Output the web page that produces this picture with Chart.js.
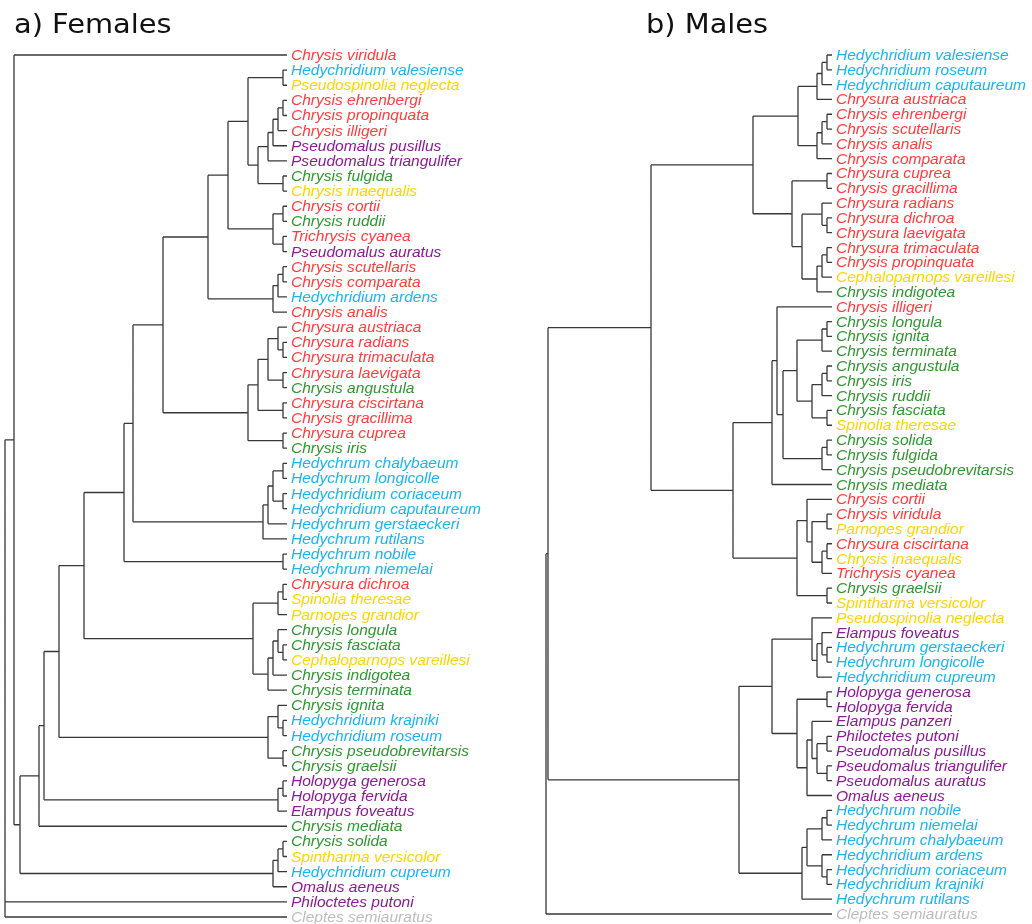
<!DOCTYPE html>
<html>
<head>
<meta charset="utf-8">
<script src="https://cdn.jsdelivr.net/npm/chart.js@4.4.1/dist/chart.umd.min.js"></script>
<style>
  body { margin: 0; background: #fff; }
  #wrap { position: relative; width: 1032px; height: 924px; overflow: hidden; }
  canvas { position: absolute; left: 0; top: 0; }
  .ttl { position: absolute; font-family: "DejaVu Sans", sans-serif; font-size: 26px; line-height: 26px;
         color: #111; transform: scaleX(1.11); transform-origin: left top; white-space: nowrap; }
</style>
</head>
<body>
<div id="wrap">
  <canvas id="females" width="1032" height="924"></canvas>
  <canvas id="males" width="1032" height="924"></canvas>
  <div class="ttl" style="left:14px; top:11px;">a) Females</div>
  <div class="ttl" style="left:646px; top:11px;">b) Males</div>
</div>
<script>
// colour of each group of taxa
const palette = { r: '#ff3c3c', b: '#1ab4f0', y: '#ffd400', p: '#8c1a96', g: '#2f972f', k: '#bcbcbc' };

// ---- a) Females ----
const femaleTaxa = [
  'Chrysis viridula', 'Hedychridium valesiense', 'Pseudospinolia neglecta', 'Chrysis ehrenbergi',
  'Chrysis propinquata', 'Chrysis illigeri', 'Pseudomalus pusillus', 'Pseudomalus triangulifer',
  'Chrysis fulgida', 'Chrysis inaequalis', 'Chrysis cortii', 'Chrysis ruddii', 'Trichrysis cyanea',
  'Pseudomalus auratus', 'Chrysis scutellaris', 'Chrysis comparata', 'Hedychridium ardens',
  'Chrysis analis', 'Chrysura austriaca', 'Chrysura radians', 'Chrysura trimaculata',
  'Chrysura laevigata', 'Chrysis angustula', 'Chrysura ciscirtana', 'Chrysis gracillima',
  'Chrysura cuprea', 'Chrysis iris', 'Hedychrum chalybaeum', 'Hedychrum longicolle',
  'Hedychridium coriaceum', 'Hedychridium caputaureum', 'Hedychrum gerstaeckeri',
  'Hedychrum rutilans', 'Hedychrum nobile', 'Hedychrum niemelai', 'Chrysura dichroa',
  'Spinolia theresae', 'Parnopes grandior', 'Chrysis longula', 'Chrysis fasciata',
  'Cephaloparnops vareillesi', 'Chrysis indigotea', 'Chrysis terminata', 'Chrysis ignita',
  'Hedychridium krajniki', 'Hedychridium roseum', 'Chrysis pseudobrevitarsis', 'Chrysis graelsii',
  'Holopyga generosa', 'Holopyga fervida', 'Elampus foveatus', 'Chrysis mediata', 'Chrysis solida',
  'Spintharina versicolor', 'Hedychridium cupreum', 'Omalus aeneus', 'Philoctetes putoni',
  'Cleptes semiauratus'
];
const femaleColorCodes = 'rbyrrrppgy' + 'rgrprrbrrr' + 'rrgrrrgbbb' + 'bbbbbryygg' + 'ygggbbggpp' + 'pggybppk';
const femaleTipDepth = 282;
// node = [depth from root, ...children]
const femaleTree =
[0,
  [9, 'Chrysis viridula',
    [15,
      [34,
        [39,
          [54,
            [79,
              [119,
                [128,
                  [158,
                    [203,
                      [223,
                        [243, [278, 'Hedychridium valesiense', 'Pseudospinolia neglecta'],
                          [253,
                            [263, [268, [273, [278, 'Chrysis ehrenbergi', 'Chrysis propinquata'], 'Chrysis illigeri'], 'Pseudomalus pusillus'],
                              'Pseudomalus triangulifer'],
                            [278, 'Chrysis fulgida', 'Chrysis inaequalis']]],
                        [268, [278, 'Chrysis cortii', 'Chrysis ruddii'], [278, 'Trichrysis cyanea', 'Pseudomalus auratus']]],
                      [268, [273, [278, 'Chrysis scutellaris', 'Chrysis comparata'], 'Hedychridium ardens'], 'Chrysis analis']],
                    [243,
                      [253,
                        [263, [273, 'Chrysura austriaca', [278, 'Chrysura radians', 'Chrysura trimaculata']],
                          [278, 'Chrysura laevigata', 'Chrysis angustula']],
                        [278, 'Chrysura ciscirtana', 'Chrysis gracillima']],
                      [278, 'Chrysura cuprea', 'Chrysis iris']]],
                  [258,
                    [263, [268, [278, 'Hedychrum chalybaeum', 'Hedychrum longicolle'], [278, 'Hedychridium coriaceum', 'Hedychridium caputaureum']],
                      'Hedychrum gerstaeckeri'],
                    'Hedychrum rutilans']],
                [278, 'Hedychrum nobile', 'Hedychrum niemelai']],
              [248,
                [273, [278, 'Chrysura dichroa', 'Spinolia theresae'], 'Parnopes grandior'],
                [263, [268, [273, 'Chrysis longula', [278, 'Chrysis fasciata', 'Cephaloparnops vareillesi']], 'Chrysis indigotea'],
                  'Chrysis terminata']]],
            [263, [273, 'Chrysis ignita', [278, 'Hedychridium krajniki', 'Hedychridium roseum']],
              [278, 'Chrysis pseudobrevitarsis', 'Chrysis graelsii']]],
          [273, [278, 'Holopyga generosa', 'Holopyga fervida'], 'Elampus foveatus']],
        'Chrysis mediata'],
      [268, [273, [278, 'Chrysis solida', 'Spintharina versicolor'], 'Hedychridium cupreum'], 'Omalus aeneus']]],
  'Philoctetes putoni',
  'Cleptes semiauratus'];

// ---- b) Males ----
const maleTaxa = [
  'Hedychridium valesiense', 'Hedychridium roseum', 'Hedychridium caputaureum', 'Chrysura austriaca',
  'Chrysis ehrenbergi', 'Chrysis scutellaris', 'Chrysis analis', 'Chrysis comparata',
  'Chrysura cuprea', 'Chrysis gracillima', 'Chrysura radians', 'Chrysura dichroa',
  'Chrysura laevigata', 'Chrysura trimaculata', 'Chrysis propinquata', 'Cephaloparnops vareillesi',
  'Chrysis indigotea', 'Chrysis illigeri', 'Chrysis longula', 'Chrysis ignita', 'Chrysis terminata',
  'Chrysis angustula', 'Chrysis iris', 'Chrysis ruddii', 'Chrysis fasciata', 'Spinolia theresae',
  'Chrysis solida', 'Chrysis fulgida', 'Chrysis pseudobrevitarsis', 'Chrysis mediata',
  'Chrysis cortii', 'Chrysis viridula', 'Parnopes grandior', 'Chrysura ciscirtana',
  'Chrysis inaequalis', 'Trichrysis cyanea', 'Chrysis graelsii', 'Spintharina versicolor',
  'Pseudospinolia neglecta', 'Elampus foveatus', 'Hedychrum gerstaeckeri', 'Hedychrum longicolle',
  'Hedychridium cupreum', 'Holopyga generosa', 'Holopyga fervida', 'Elampus panzeri',
  'Philoctetes putoni', 'Pseudomalus pusillus', 'Pseudomalus triangulifer', 'Pseudomalus auratus',
  'Omalus aeneus', 'Hedychrum nobile', 'Hedychrum niemelai', 'Hedychrum chalybaeum',
  'Hedychridium ardens', 'Hedychridium coriaceum', 'Hedychridium krajniki', 'Hedychrum rutilans',
  'Cleptes semiauratus'
];
const maleColorCodes = 'bbbrrrrrrr' + 'rrrrrygrgg' + 'gggggygggg' + 'rryryrgyyp' + 'bbbppppppp' + 'pbbbbbbbk';
const maleTipDepth = 286;
const maleTree =
[0,
  [2,
    [105,
      [207,
        [252,
          [271, [276, [281, 'Hedychridium valesiense', 'Hedychridium roseum'], 'Hedychridium caputaureum'], 'Chrysura austriaca'],
          [271, [276, [281, 'Chrysis ehrenbergi', 'Chrysis scutellaris'], 'Chrysis analis'], 'Chrysis comparata']],
        [246,
          [281, 'Chrysura cuprea', 'Chrysis gracillima'],
          [256,
            [276, 'Chrysura radians', [281, 'Chrysura dichroa', 'Chrysura laevigata']],
            [271, [276, [281, 'Chrysura trimaculata', 'Chrysis propinquata'], 'Cephaloparnops vareillesi'], 'Chrysis indigotea']]]],
      [187,
        [226,
          [231, 'Chrysis illigeri',
            [237,
              [251,
                [276, [281, 'Chrysis longula', 'Chrysis ignita'], 'Chrysis terminata'],
                [266, [276, [281, 'Chrysis angustula', 'Chrysis iris'], 'Chrysis ruddii'], [281, 'Chrysis fasciata', 'Spinolia theresae']]],
              [276, [281, 'Chrysis solida', 'Chrysis fulgida'], 'Chrysis pseudobrevitarsis']]],
          'Chrysis mediata'],
        [251,
          [261, 'Chrysis cortii',
            [266, [281, 'Chrysis viridula', 'Parnopes grandior'], [276, [281, 'Chrysura ciscirtana', 'Chrysis inaequalis'], 'Trichrysis cyanea']]],
          [281, 'Chrysis graelsii', 'Spintharina versicolor']]]],
    [193,
      [226,
        [266, 'Pseudospinolia neglecta',
          [271, [276, 'Elampus foveatus', [281, 'Hedychrum gerstaeckeri', 'Hedychrum longicolle']], 'Hedychridium cupreum']],
        [251, [281, 'Holopyga generosa', 'Holopyga fervida'],
          [261, [266, 'Elampus panzeri', [271, [281, 'Philoctetes putoni', 'Pseudomalus pusillus'], [281, 'Pseudomalus triangulifer', 'Pseudomalus auratus']]],
            'Omalus aeneus']]],
      [256,
        [261, [276, [281, 'Hedychrum nobile', 'Hedychrum niemelai'], 'Hedychrum chalybaeum'],
          [276, 'Hedychridium ardens', [281, 'Hedychridium coriaceum', 'Hedychridium krajniki']]],
        'Hedychrum rutilans']]],
  'Cleptes semiauratus'];

// walk the tree, collecting elbow segments (x = depth, y = tip index)
function layoutTree(node, taxa, tipDepth, pts) {
  if (typeof node === 'string') {
    return { x: tipDepth, y: taxa.indexOf(node) };
  }
  const depth = node[0];
  const kids = node.slice(1).map(k => layoutTree(k, taxa, tipDepth, pts));
  const first = kids[0], last = kids[kids.length - 1];
  pts.push({ x: depth, y: first.y }, { x: depth, y: last.y }, { x: null, y: null });
  kids.forEach(k => {
    pts.push({ x: depth, y: k.y }, { x: k.x, y: k.y }, { x: null, y: null });
  });
  return { x: depth, y: (first.y + last.y) / 2 };
}

// draws the coloured species names at the tips
const tipLabels = {
  id: 'tipLabels',
  afterDatasetsDraw(chart, args, opts) {
    const ctx = chart.ctx;
    const xs = chart.scales.x, ys = chart.scales.y;
    ctx.save();
    ctx.font = 'italic 14px "Liberation Sans", Arial, sans-serif';
    ctx.textBaseline = 'alphabetic';
    opts.taxa.forEach((name, i) => {
      const px = xs.getPixelForValue(opts.tip) + 4;
      const py = ys.getPixelForValue(i) + 5;
      ctx.save();
      ctx.translate(px, py);
      ctx.scale(1.11, 1);
      ctx.fillStyle = palette[opts.colors[i]];
      ctx.fillText(name, 0, 0);
      ctx.restore();
    });
    ctx.restore();
  }
};

function drawTree(canvasId, taxa, codes, tree, tipDepth, pad) {
  const pts = [];
  layoutTree(tree, taxa, tipDepth, pts);
  return new Chart(document.getElementById(canvasId), {
    type: 'scatter',
    data: {
      datasets: [{
        data: pts,
        showLine: true,
        spanGaps: false,
        pointRadius: 0,
        borderColor: '#383838',
        borderWidth: 1.3,
        clip: false
      }]
    },
    options: {
      responsive: false,
      animation: false,
      layout: { padding: pad },
      scales: {
        x: { type: 'linear', display: false, min: 0, max: tipDepth },
        y: { type: 'linear', display: false, min: 0, max: taxa.length - 1, reverse: true }
      },
      plugins: {
        legend: { display: false },
        tooltip: { enabled: false },
        tipLabels: { taxa: taxa, colors: codes.split(''), tip: tipDepth }
      }
    },
    plugins: [tipLabels]
  });
}

drawTree('females', femaleTaxa, femaleColorCodes, femaleTree, femaleTipDepth,
  { left: 5, right: 1032 - 287, top: 55, bottom: 924 - 917 });
drawTree('males', maleTaxa, maleColorCodes, maleTree, maleTipDepth,
  { left: 546, right: 1032 - 832, top: 55, bottom: 924 - 914 });
</script>
</body>
</html>
